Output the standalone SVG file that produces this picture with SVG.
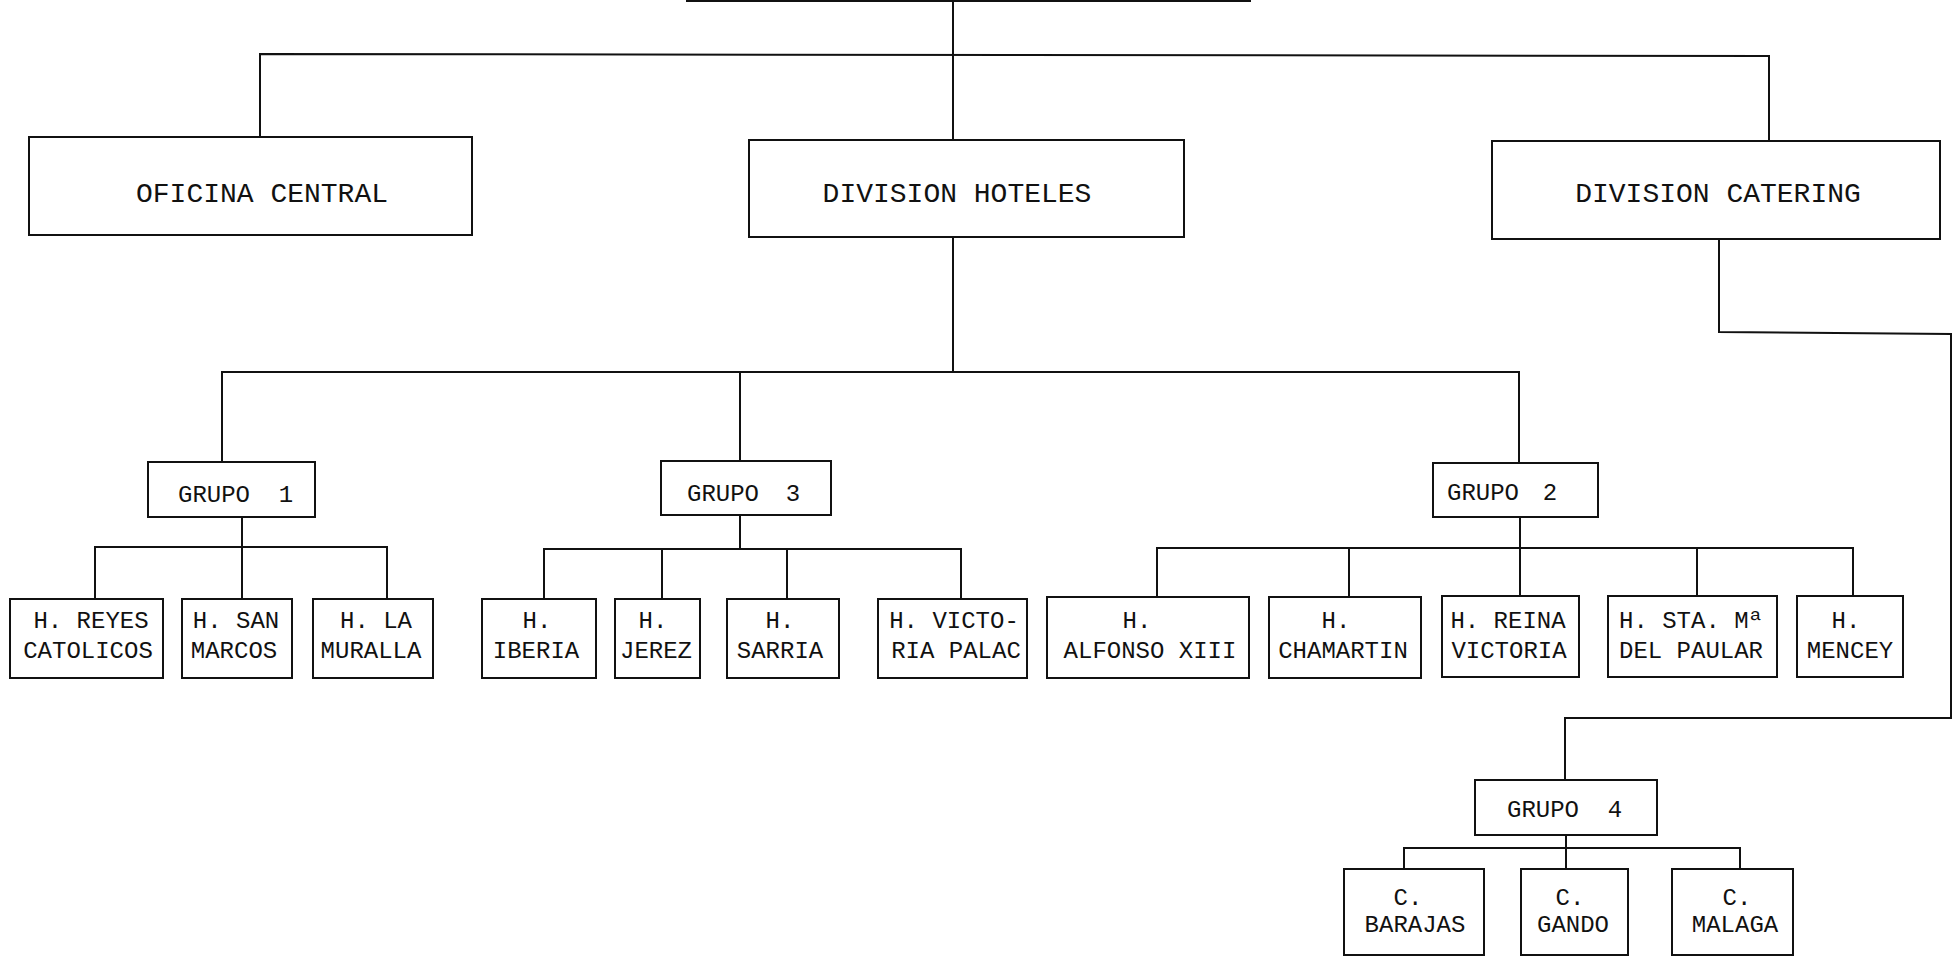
<svg xmlns="http://www.w3.org/2000/svg" width="1955" height="957" viewBox="0 0 1955 957">
<style>
rect.box{fill:#fff;stroke:#111;stroke-width:2}
.conn line, .conn polyline{stroke:#111;stroke-width:2;fill:none}
text{font-family:"Liberation Mono","DejaVu Sans Mono",monospace;fill:#111;text-anchor:middle}
text.big{font-size:28px}
text.sm{font-size:24px}
</style>
<rect width="1955" height="957" fill="#fff"/>
<g id="connectors" class="conn">
<line x1="686" y1="1" x2="1251" y2="1"/>
<line x1="953" y1="1" x2="953" y2="140"/>
<polyline points="260,137 260,54 1769,56 1769,141"/>
<polyline points="1719,239 1719,332 1951,334 1951,718 1565,718 1565,780"/>
<line x1="953" y1="237" x2="953" y2="372"/>
<polyline points="222,462 222,372 1519,372 1519,463"/>
<line x1="740" y1="372" x2="740" y2="461"/>
<line x1="242" y1="517" x2="242" y2="599"/>
<polyline points="95,599 95,547 387,547 387,599"/>
<line x1="740" y1="515" x2="740" y2="549"/>
<polyline points="544,599 544,549 961,549 961,599"/>
<line x1="662" y1="549" x2="662" y2="599"/>
<line x1="787" y1="549" x2="787" y2="599"/>
<line x1="1520" y1="517" x2="1520" y2="596"/>
<polyline points="1157,597 1157,548 1853,548 1853,596"/>
<line x1="1349" y1="548" x2="1349" y2="597"/>
<line x1="1697" y1="548" x2="1697" y2="596"/>
<line x1="1566" y1="835" x2="1566" y2="869"/>
<polyline points="1404,869 1404,848 1740,848 1740,869"/>
</g>
<g id="oficina-central"><rect class="box" x="29" y="137" width="443" height="98"/><text class="big" x="262" y="202">OFICINA CENTRAL</text></g>
<g id="division-hoteles"><rect class="box" x="749" y="140" width="435" height="97"/><text class="big" x="957" y="202">DIVISION HOTELES</text></g>
<g id="division-catering"><rect class="box" x="1492" y="141" width="448" height="98"/><text class="big" x="1718" y="202">DIVISION CATERING</text></g>
<g id="grupo-1"><rect class="box" x="148" y="462" width="167" height="55"/><text class="sm" y="502"><tspan x="214">GRUPO</tspan><tspan x="286">1</tspan></text></g>
<g id="grupo-3"><rect class="box" x="661" y="461" width="170" height="54"/><text class="sm" y="501"><tspan x="723">GRUPO</tspan><tspan x="793">3</tspan></text></g>
<g id="grupo-2"><rect class="box" x="1433" y="463" width="165" height="54"/><text class="sm" y="500"><tspan x="1483">GRUPO</tspan><tspan x="1550">2</tspan></text></g>
<g id="grupo-4"><rect class="box" x="1475" y="780" width="182" height="55"/><text class="sm" y="817"><tspan x="1543">GRUPO</tspan><tspan x="1615">4</tspan></text></g>
<g id="h-reyes-catolicos"><rect class="box" x="10" y="599" width="153" height="79"/><text class="sm"><tspan x="91" y="628">H. REYES</tspan><tspan x="88" y="658">CATOLICOS</tspan></text></g>
<g id="h-san-marcos"><rect class="box" x="182" y="599" width="110" height="79"/><text class="sm"><tspan x="236" y="628">H. SAN</tspan><tspan x="234" y="658">MARCOS</tspan></text></g>
<g id="h-la-muralla"><rect class="box" x="313" y="599" width="120" height="79"/><text class="sm"><tspan x="376" y="628">H. LA</tspan><tspan x="371" y="658">MURALLA</tspan></text></g>
<g id="h-iberia"><rect class="box" x="482" y="599" width="114" height="79"/><text class="sm"><tspan x="537" y="628">H.</tspan><tspan x="536" y="658">IBERIA</tspan></text></g>
<g id="h-jerez"><rect class="box" x="615" y="599" width="85" height="79"/><text class="sm"><tspan x="653" y="628">H.</tspan><tspan x="656" y="658">JEREZ</tspan></text></g>
<g id="h-sarria"><rect class="box" x="727" y="599" width="112" height="79"/><text class="sm"><tspan x="780" y="628">H.</tspan><tspan x="780" y="658">SARRIA</tspan></text></g>
<g id="h-victoria-palace"><rect class="box" x="878" y="599" width="149" height="79"/><text class="sm"><tspan x="954" y="628">H. VICTO-</tspan><tspan x="956" y="658">RIA PALAC</tspan></text></g>
<g id="h-alfonso-xiii"><rect class="box" x="1047" y="597" width="202" height="81"/><text class="sm"><tspan x="1137" y="628">H.</tspan><tspan x="1150" y="658">ALFONSO XIII</tspan></text></g>
<g id="h-chamartin"><rect class="box" x="1269" y="597" width="152" height="81"/><text class="sm"><tspan x="1336" y="628">H.</tspan><tspan x="1343" y="658">CHAMARTIN</tspan></text></g>
<g id="h-reina-victoria"><rect class="box" x="1442" y="596" width="137" height="81"/><text class="sm"><tspan x="1508" y="628">H. REINA</tspan><tspan x="1509" y="658">VICTORIA</tspan></text></g>
<g id="h-sta-maria-del-paular"><rect class="box" x="1608" y="596" width="169" height="81"/><text class="sm"><tspan x="1691" y="628">H. STA. Mª</tspan><tspan x="1691" y="658">DEL PAULAR</tspan></text></g>
<g id="h-mencey"><rect class="box" x="1797" y="596" width="106" height="81"/><text class="sm"><tspan x="1846" y="628">H.</tspan><tspan x="1850" y="658">MENCEY</tspan></text></g>
<g id="c-barajas"><rect class="box" x="1344" y="869" width="140" height="86"/><text class="sm"><tspan x="1408" y="905">C.</tspan><tspan x="1415" y="932">BARAJAS</tspan></text></g>
<g id="c-gando"><rect class="box" x="1521" y="869" width="107" height="86"/><text class="sm"><tspan x="1570" y="905">C.</tspan><tspan x="1573" y="932">GANDO</tspan></text></g>
<g id="c-malaga"><rect class="box" x="1672" y="869" width="121" height="86"/><text class="sm"><tspan x="1737" y="905">C.</tspan><tspan x="1735" y="932">MALAGA</tspan></text></g>
</svg>
